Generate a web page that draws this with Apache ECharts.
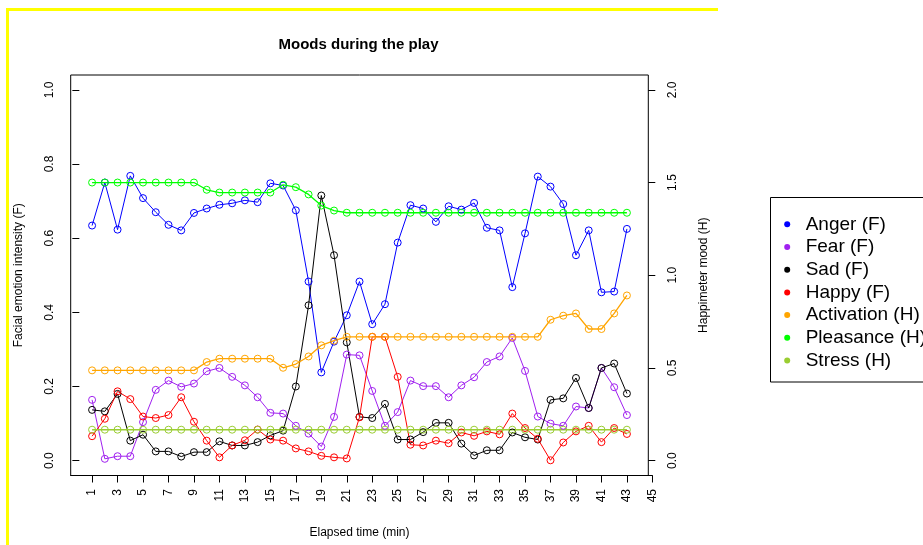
<!DOCTYPE html>
<html>
<head>
<meta charset="utf-8">
<script src="https://cdn.jsdelivr.net/npm/echarts@6/dist/echarts.min.js"></script>
<style>
  html, body { margin: 0; padding: 0; background: #fff; }
  #chart { width: 923px; height: 545px; }
</style>
</head>
<body>
<div id="chart"></div>
<script>
// Elapsed time in minutes
const minutes = [1, 2, 3, 4, 5, 6, 7, 8, 9, 10, 11, 12, 13, 14, 15, 16, 17, 18, 19, 20, 21,
  22, 23, 24, 25, 26, 27, 28, 29, 30, 31, 32, 33, 34, 35, 36, 37, 38, 39, 40, 41, 42, 43];

// Facial emotion intensity (F), left axis
const anger = [0.634, 0.750, 0.623, 0.768, 0.708, 0.670, 0.636, 0.621, 0.668, 0.680,
  0.690, 0.694, 0.702, 0.697, 0.748, 0.742, 0.675, 0.483, 0.238, 0.321,
  0.392, 0.483, 0.368, 0.422, 0.588, 0.689, 0.680, 0.644, 0.686, 0.677,
  0.695, 0.628, 0.621, 0.468, 0.613, 0.766, 0.739, 0.692, 0.554, 0.621,
  0.454, 0.456, 0.625];
const fear = [0.164, 0.005, 0.012, 0.012, 0.104, 0.191, 0.216, 0.199, 0.208, 0.241,
  0.250, 0.226, 0.203, 0.171, 0.129, 0.127, 0.094, 0.073, 0.038, 0.118,
  0.286, 0.284, 0.188, 0.094, 0.131, 0.216, 0.201, 0.201, 0.171, 0.203,
  0.225, 0.266, 0.281, 0.331, 0.242, 0.119, 0.100, 0.094, 0.146, 0.142,
  0.250, 0.198, 0.123];
const sad = [0.137, 0.133, 0.180, 0.054, 0.070, 0.025, 0.025, 0.011, 0.023, 0.023,
  0.052, 0.041, 0.041, 0.050, 0.068, 0.081, 0.200, 0.419, 0.715, 0.554,
  0.319, 0.118, 0.115, 0.153, 0.057, 0.057, 0.077, 0.102, 0.102, 0.046,
  0.014, 0.028, 0.028, 0.076, 0.063, 0.057, 0.164, 0.168, 0.223, 0.142,
  0.250, 0.262, 0.181];
const happy = [0.066, 0.113, 0.187, 0.166, 0.119, 0.115, 0.123, 0.171, 0.105, 0.054,
  0.009, 0.041, 0.055, 0.084, 0.057, 0.054, 0.033, 0.025, 0.013, 0.009,
  0.006, 0.117, 0.334, 0.334, 0.226, 0.043, 0.041, 0.054, 0.047, 0.076,
  0.067, 0.079, 0.071, 0.127, 0.088, 0.059, 0.001, 0.049, 0.079, 0.094,
  0.050, 0.088, 0.072];

// Happimeter mood (H), right axis
const activation = [0.487, 0.487, 0.487, 0.487, 0.487, 0.487, 0.487, 0.487, 0.487, 0.532,
  0.550, 0.550, 0.550, 0.550, 0.550, 0.501, 0.521, 0.562, 0.622, 0.647,
  0.668, 0.668, 0.668, 0.668, 0.668, 0.668, 0.668, 0.668, 0.668, 0.668,
  0.668, 0.668, 0.668, 0.668, 0.668, 0.668, 0.760, 0.782, 0.794, 0.710,
  0.710, 0.794, 0.891];
const pleasance = [1.500, 1.500, 1.500, 1.500, 1.500, 1.500, 1.500, 1.500, 1.500, 1.461,
  1.446, 1.446, 1.446, 1.446, 1.446, 1.488, 1.475, 1.436, 1.376, 1.349,
  1.337, 1.337, 1.337, 1.337, 1.337, 1.337, 1.337, 1.337, 1.337, 1.337,
  1.337, 1.337, 1.337, 1.337, 1.337, 1.337, 1.337, 1.337, 1.337, 1.337,
  1.337, 1.337, 1.337];
const stress = [0.167, 0.167, 0.167, 0.167, 0.167, 0.167, 0.167, 0.167, 0.167, 0.167,
  0.167, 0.167, 0.167, 0.167, 0.167, 0.167, 0.167, 0.167, 0.167, 0.167,
  0.167, 0.167, 0.167, 0.167, 0.167, 0.167, 0.167, 0.167, 0.167, 0.167,
  0.167, 0.167, 0.167, 0.167, 0.167, 0.167, 0.167, 0.167, 0.167, 0.167,
  0.167, 0.167, 0.167];

// Tick labels
const xTicks = [1, 3, 5, 7, 9, 11, 13, 15, 17, 19, 21, 23, 25, 27, 29, 31, 33, 35, 37, 39, 41, 43, 45];
const leftTicks = [0, 0.2, 0.4, 0.6, 0.8, 1.0];
const rightTicks = [0, 0.5, 1.0, 1.5, 2.0];

const FONT = '"Liberation Sans", Arial, Helvetica, sans-serif';

const seriesDefs = [
  { name: 'Anger (F)', values: anger, color: '#0000FF', axis: 0, width: 1 },
  { name: 'Fear (F)', values: fear, color: '#A020F0', axis: 0, width: 1 },
  { name: 'Sad (F)', values: sad, color: '#000000', axis: 0, width: 1 },
  { name: 'Happy (F)', values: happy, color: '#FF0000', axis: 0, width: 1 },
  { name: 'Activation (H)', values: activation, color: '#FFA500', axis: 1, width: 1.3 },
  { name: 'Pleasance (H)', values: pleasance, color: '#00FF00', axis: 1, width: 1.3 },
  { name: 'Stress (H)', values: stress, color: '#9ACD32', axis: 1, width: 1.5 }
];

// Plot box geometry (pixels)
const box = { left: 70.7, top: 75, width: 577.6, height: 400.5 };
const xMin = -0.68, xMax = 44.68;
const pxPerMin = box.width / (xMax - xMin);

// Legend frame runs past the right edge of the page
const legendBox = { x: 770.5, y: 197.5, width: 200, height: 184.5 };

const chart = echarts.init(document.getElementById('chart'), null, { renderer: 'canvas' });

chart.setOption({
  animation: false,
  backgroundColor: '#ffffff',
  textStyle: { fontFamily: FONT },
  graphic: [
    { type: 'rect', shape: { x: 6, y: 8, width: 712, height: 3 }, style: { fill: '#FFFF00' }, silent: true },
    { type: 'rect', shape: { x: 6, y: 8, width: 3, height: 537 }, style: { fill: '#FFFF00' }, silent: true },
    {
      type: 'rect', z: 1, silent: true,
      shape: { x: legendBox.x, y: legendBox.y, width: legendBox.width, height: legendBox.height },
      style: { fill: '#fff', stroke: '#000', lineWidth: 1 }
    },
    {
      type: 'text', x: box.left + box.width / 2 - 1, y: 45, silent: true,
      style: {
        text: 'Moods during the play', fill: '#000',
        font: 'bold 15px ' + FONT,
        align: 'center', verticalAlign: 'middle',
        textAlign: 'center', textVerticalAlign: 'middle'
      }
    }
  ],
  grid: [
    {
      left: box.left, top: box.top, width: box.width, height: box.height,
      show: true, borderColor: '#000', borderWidth: 1, backgroundColor: 'transparent'
    },
    {
      // tick scale for the time axis, running on to 45
      left: box.left, top: box.top,
      width: pxPerMin * (45 - xMin), height: box.height,
      show: false
    }
  ],
  xAxis: [
    {
      gridIndex: 0, type: 'value', min: xMin, max: xMax,
      axisLine: { show: false }, axisTick: { show: false },
      axisLabel: { show: false }, splitLine: { show: false },
      name: 'Elapsed time (min)', nameLocation: 'middle', nameGap: 51,
      nameTextStyle: { fontSize: 12, color: '#000', fontFamily: FONT }
    },
    {
      gridIndex: 1, type: 'value', min: xMin, max: 45,
      axisLine: { show: true, lineStyle: { color: '#000', width: 1 } },
      axisTick: { show: true, customValues: xTicks, length: 7, lineStyle: { color: '#000' } },
      axisLabel: {
        show: true, customValues: xTicks, rotate: 90, margin: 13.5,
        fontSize: 12, color: '#000', fontFamily: FONT
      },
      splitLine: { show: false }
    }
  ],
  yAxis: [
    {
      gridIndex: 0, type: 'value', position: 'left', min: -0.04, max: 1.04,
      axisLine: { show: false },
      axisTick: { show: true, customValues: leftTicks, length: 7, lineStyle: { color: '#000' } },
      axisLabel: {
        show: true, customValues: leftTicks, rotate: 90, margin: 15,
        fontSize: 12, color: '#000', fontFamily: FONT,
        formatter: v => v.toFixed(1)
      },
      splitLine: { show: false },
      name: 'Facial emotion intensity (F)', nameLocation: 'middle', nameRotate: 90, nameGap: 46,
      nameTextStyle: { fontSize: 12, color: '#000', fontFamily: FONT }
    },
    {
      gridIndex: 0, type: 'value', position: 'right', min: -0.08, max: 2.08,
      axisLine: { show: false },
      axisTick: { show: true, customValues: rightTicks, length: 7, lineStyle: { color: '#000' } },
      axisLabel: {
        show: true, customValues: rightTicks, rotate: 90, margin: 18,
        fontSize: 12, color: '#000', fontFamily: FONT,
        formatter: v => v.toFixed(1)
      },
      splitLine: { show: false },
      name: 'Happimeter mood (H)', nameLocation: 'middle', nameRotate: 90, nameGap: 49,
      nameTextStyle: { fontSize: 12, color: '#000', fontFamily: FONT }
    },
    { gridIndex: 1, type: 'value', show: false, min: 0, max: 1 }
  ],
  legend: {
    orient: 'vertical', left: 770.7, top: 197.7, z: 5,
    padding: [17.1, 0, 12, 13.5],
    borderWidth: 0, backgroundColor: 'transparent',
    icon: 'circle', itemWidth: 6, itemHeight: 6, itemGap: 3.7,
    selectedMode: false,
    textStyle: { fontSize: 19, lineHeight: 19, color: '#000', fontFamily: FONT, padding: [0, 0, 0, 10.5] },
    data: seriesDefs.map(s => ({ name: s.name, itemStyle: { color: s.color, borderWidth: 0 } }))
  },
  series: seriesDefs.map(s => ({
    type: 'line', name: s.name,
    xAxisIndex: 0, yAxisIndex: s.axis,
    data: minutes.map((m, i) => [m, s.values[i]]),
    symbol: 'circle', symbolSize: 7, showSymbol: true,
    lineStyle: { color: s.color, width: s.width },
    itemStyle: { color: 'rgba(0,0,0,0)', borderColor: s.color, borderWidth: 1 },
    emphasis: { disabled: true },
    clip: false
  }))
});
</script>
</body>
</html>
